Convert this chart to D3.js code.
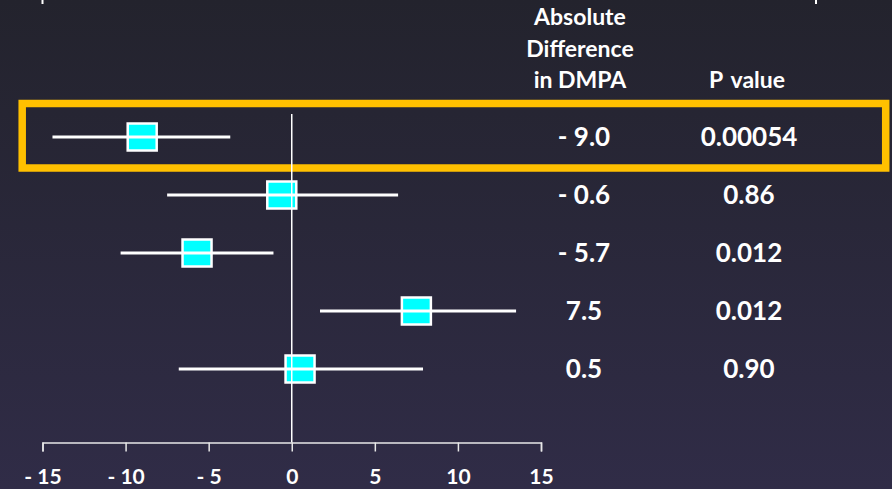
<!DOCTYPE html>
<html>
<head>
<meta charset="utf-8">
<script src="https://cdn.jsdelivr.net/npm/d3@7"></script>
<style>
  html, body { margin: 0; padding: 0; }
  body { width: 892px; height: 489px; overflow: hidden; }
  svg { display: block; }
</style>
</head>
<body>
<div id="chart"></div>
<script>
// rows, top to bottom
const estimates = [-9.0, -0.6, -5.7, 7.5, 0.5];
const lower = [-14.4, -7.5, -10.3, 1.7, -6.8];
const upper = [-3.7, 6.4, -1.1, 13.5, 7.9];
const diffLabels = ["- 9.0", "- 0.6", "- 5.7", "7.5", "0.5"];
const pValues = ["0.00054", "0.86", "0.012", "0.012", "0.90"];
const headerDiff = ["Absolute", "Difference", "in DMPA"];
const headerP = "P value";
const xTicks = [-15, -10, -5, 0, 5, 10, 15];
const highlightRow = 0;

const width = 892, height = 489;
const font = "Lato, 'Open Sans', sans-serif";

const svg = d3.select('#chart').append('svg')
  .attr('width', width)
  .attr('height', height);

const grad = svg.append('defs').append('linearGradient')
  .attr('id', 'bg').attr('x1', 0).attr('y1', 0).attr('x2', 0).attr('y2', 1);
grad.append('stop').attr('offset', '0%').attr('stop-color', '#23232d');
grad.append('stop').attr('offset', '100%').attr('stop-color', '#302c47');

svg.append('rect').attr('width', width).attr('height', height).attr('fill', 'url(#bg)');

const x = d3.scaleLinear().domain([-15, 15]).range([42.5, 541]);
const rows = d3.range(estimates.length);
const y = d3.scalePoint().domain(rows).range([137, 369]);
const axisY = 442.5;

// leftover marks at the top edge
svg.selectAll('line.topmark')
  .data([x(-15), 816])
  .join('line')
  .attr('x1', d => d).attr('x2', d => d)
  .attr('y1', 0).attr('y2', 4)
  .attr('stroke', '#ffffff').attr('stroke-width', 2);

// headers
const hdr = svg.append('g')
  .attr('font-family', font)
  .attr('font-weight', 700)
  .attr('font-size', 23)
  .attr('fill', '#ffffff')
  .attr('text-anchor', 'middle');

hdr.selectAll('text.hd')
  .data(headerDiff)
  .join('text')
  .attr('x', 580)
  .attr('y', (d, i) => 25 + i * 31.5)
  .text(d => d);

hdr.append('text')
  .attr('x', 747)
  .attr('y', 25 + 2 * 31.5)
  .attr('word-spacing', 3)
  .text(headerP);

// highlight box
svg.append('rect')
  .attr('x', 22.2)
  .attr('y', y(highlightRow) - 33.5)
  .attr('width', 863.5)
  .attr('height', 64.5)
  .attr('fill', 'none')
  .attr('stroke', '#ffc000')
  .attr('stroke-width', 7.5);

// squares
svg.selectAll('rect.est')
  .data(rows)
  .join('rect')
  .attr('class', 'est')
  .attr('x', i => x(estimates[i]) - 14.5)
  .attr('y', i => y(i) - 13.5)
  .attr('width', 29)
  .attr('height', 27)
  .attr('fill', '#00ffff')
  .attr('stroke', '#ffffff')
  .attr('stroke-width', 2.5);

// confidence intervals
svg.selectAll('line.ci')
  .data(rows)
  .join('line')
  .attr('class', 'ci')
  .attr('x1', i => x(lower[i]))
  .attr('x2', i => x(upper[i]))
  .attr('y1', i => y(i))
  .attr('y2', i => y(i))
  .attr('stroke', '#ffffff')
  .attr('stroke-width', 3);

// zero line
svg.append('line')
  .attr('x1', x(0)).attr('x2', x(0))
  .attr('y1', 114).attr('y2', axisY)
  .attr('stroke', '#ffffff')
  .attr('stroke-width', 1.5);

// axis
const axis = svg.append('g')
  .attr('transform', `translate(0,${axisY})`)
  .call(d3.axisBottom(x)
    .tickValues(xTicks)
    .tickSize(9)
    .tickFormat(d => d < 0 ? '- ' + Math.abs(d) : String(d)));

axis.selectAll('path, line')
  .attr('stroke', '#e8e8e8')
  .attr('stroke-width', 1.5);
axis.selectAll('text')
  .attr('fill', '#ffffff')
  .attr('font-family', font)
  .attr('font-weight', 700)
  .attr('font-size', 21)
  .attr('y', 41)
  .attr('dy', 0);

// value columns
const vals = svg.append('g')
  .attr('font-family', font)
  .attr('font-weight', 700)
  .attr('font-size', 26)
  .attr('fill', '#ffffff')
  .attr('text-anchor', 'middle');

vals.selectAll('text.diff')
  .data(rows)
  .join('text')
  .attr('x', 584)
  .attr('y', i => y(i) + 9)
  .text(i => diffLabels[i]);

vals.selectAll('text.p')
  .data(rows)
  .join('text')
  .attr('x', 749)
  .attr('y', i => y(i) + 9)
  .text(i => pValues[i]);
</script>
</body>
</html>
